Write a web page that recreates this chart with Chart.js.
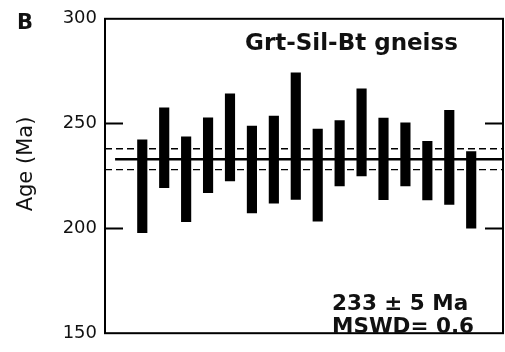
<!DOCTYPE html>
<html>
<head>
<meta charset="utf-8">
<script src="https://cdn.jsdelivr.net/npm/chart.js@4"></script>
<style>
  html, body { margin: 0; padding: 0; background: #fff; }
  #wrap { width: 505px; height: 352px; }
</style>
</head>
<body>
<div id="wrap"><canvas id="age-chart"></canvas></div>
<script>
// analysis number (x position) and 2-sigma age range of each spot, Ma
const spots = [1, 2, 3, 4, 5, 6, 7, 8, 9, 10, 11, 12, 13, 14, 15, 16];
const ageLow = [198.0, 219.4, 203.2, 217.0, 222.7, 207.4, 212.0, 213.8, 203.5, 220.3, 225.0, 213.7, 220.3, 213.6, 211.4, 200.1];
const ageHigh = [242.3, 257.5, 243.7, 252.7, 264.2, 248.8, 253.6, 274.2, 247.4, 251.5, 266.6, 252.6, 250.4, 241.6, 256.3, 236.7];

// weighted mean and its error
const meanAge = 233;
const meanErr = 5;
const mswd = 0.6;

const yTicks = [150, 200, 250, 300];
const panelLabel = 'B';
const sampleName = 'Grt-Sil-Bt gneiss';
const yTitle = 'Age (Ma)';

const X_MIN = -0.7, X_MAX = 17.45;
const FONT = '"DejaVu Sans", sans-serif';

// frame, inside tick marks and the text labels
const decorations = {
    id: 'decorations',
    afterDraw(chart) {
        const { ctx, chartArea: a } = chart;
        const y = chart.scales.y;
        ctx.save();
        ctx.strokeStyle = '#000';
        ctx.lineWidth = 2;
        ctx.strokeRect(a.left, a.top, a.right - a.left, a.bottom - a.top);

        // ticks pointing into the plot, both sides
        yTicks.filter(t => t > y.min && t < y.max).forEach(t => {
            const py = y.getPixelForValue(t);
            ctx.beginPath();
            ctx.moveTo(a.left, py);
            ctx.lineTo(a.left + 18, py);
            ctx.moveTo(a.right - 18, py);
            ctx.lineTo(a.right, py);
            ctx.stroke();
        });

        ctx.fillStyle = '#111';
        ctx.textAlign = 'left';
        ctx.textBaseline = 'alphabetic';
        ctx.font = 'bold 21px ' + FONT;
        ctx.fillText(panelLabel, 17, 29);

        ctx.font = 'bold 23px ' + FONT;
        ctx.fillText(sampleName, 245, 50);

        ctx.font = 'bold 21.5px ' + FONT;
        ctx.fillText(meanAge + ' \u00b1 ' + meanErr + ' Ma', 332, 310);
        ctx.fillText('MSWD= ' + mswd, 332, 333);

        // y axis title
        ctx.save();
        ctx.translate(32, 164);
        ctx.rotate(-Math.PI / 2);
        ctx.textAlign = 'center';
        ctx.font = '21px ' + FONT;
        ctx.fillText(yTitle, 0, 0);
        ctx.restore();

        ctx.restore();
    }
};

new Chart(document.getElementById('age-chart').getContext('2d'), {
    type: 'bar',
    data: {
        datasets: [
            {
                type: 'line',
                data: [{ x: X_MIN, y: meanAge + meanErr }, { x: X_MAX, y: meanAge + meanErr }],
                borderColor: '#000',
                borderWidth: 1.3,
                borderDash: [7, 4],
                pointRadius: 0
            },
            {
                type: 'line',
                data: [{ x: X_MIN, y: meanAge - meanErr }, { x: X_MAX, y: meanAge - meanErr }],
                borderColor: '#000',
                borderWidth: 1.3,
                borderDash: [7, 4],
                pointRadius: 0
            },
            {
                type: 'line',
                data: [{ x: -0.24, y: meanAge }, { x: X_MAX, y: meanAge }],
                borderColor: '#000',
                borderWidth: 2.5,
                pointRadius: 0
            },
            {
                data: spots.map((s, i) => ({ x: s, y: [ageLow[i], ageHigh[i]] })),
                backgroundColor: '#000',
                borderWidth: 0,
                barThickness: 9.5
            }
        ]
    },
    options: {
        responsive: true,
        maintainAspectRatio: false,
        animation: false,
        layout: { padding: { left: 0, right: 2, top: 15, bottom: 6 } },
        plugins: {
            legend: { display: false },
            tooltip: { enabled: false }
        },
        scales: {
            x: {
                type: 'linear',
                min: X_MIN,
                max: X_MAX,
                offset: false,
                display: false
            },
            y: {
                min: 150,
                max: 300,
                afterBuildTicks: axis => { axis.ticks = yTicks.map(v => ({ value: v })); },
                afterFit: axis => { axis.width = 105; },
                grid: { display: false, drawTicks: false },
                border: { display: false },
                ticks: {
                    padding: 8,
                    color: '#111',
                    font: { family: FONT, size: 18 }
                }
            }
        }
    },
    plugins: [decorations]
});
</script>
</body>
</html>
